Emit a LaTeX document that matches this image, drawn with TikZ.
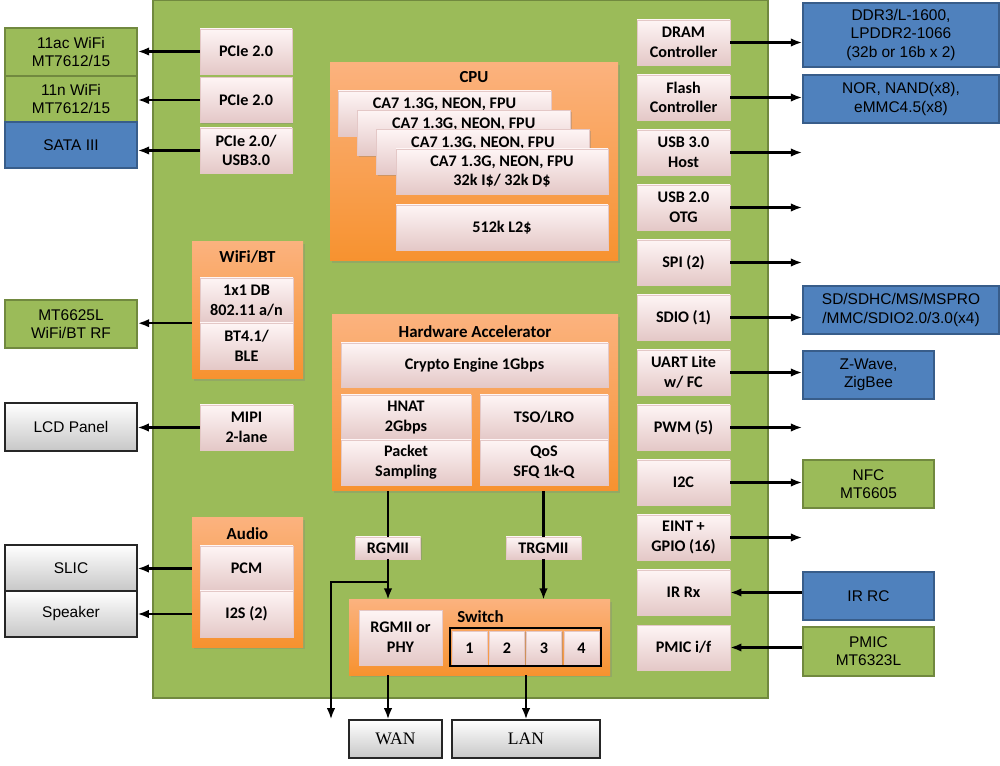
\documentclass[tikz,border=0pt]{standalone}
\usepackage{fontspec}
\setmainfont{Liberation Sans}
\newfontfamily\calfont{Carlito}
\newfontfamily\serfont{Liberation Serif}
\usetikzlibrary{arrows.meta,shadows}

\definecolor{chipgreen}{HTML}{9BBB59}
\definecolor{chipedge}{HTML}{71893F}
\definecolor{blockblue}{HTML}{4F81BD}
\definecolor{blueedge}{HTML}{385D8A}
\definecolor{orangetop}{HTML}{FBB27E}
\definecolor{orangebot}{HTML}{F7922F}
\definecolor{pinktop}{HTML}{FEF5F5}
\definecolor{pinkfill}{HTML}{F8E0DF}
\definecolor{pinkbot}{HTML}{E4C8C7}

\begin{document}
\begin{tikzpicture}[x=0.025cm, y=-0.025cm,
	wh/.style 2 args={minimum width=#1*0.025cm, minimum height=#2*0.025cm},
	ext/.style={inner sep=0pt, align=center, line width=1.2pt, font=\fontsize{11}{13}\selectfont},
	bluebox/.style={ext, fill=blockblue, draw=blueedge},
	greenbox/.style={ext, fill=chipgreen, draw=chipedge},
	graybox/.style={ext, top color=white, bottom color=black!22, draw=black!85, line width=0.8pt},
	grp/.style={inner sep=0pt, top color=orangetop, bottom color=orangebot,
		drop shadow={opacity=0.3, shadow xshift=1.2pt, shadow yshift=-1.2pt}},
	pink/.style={inner sep=0pt, align=center, top color=pinktop, middle color=pinkfill, bottom color=pinkbot,
		draw=pinkbot, line width=0.3pt, drop shadow={opacity=0.35, shadow xshift=1pt, shadow yshift=-1pt},
		font=\calfont\bfseries\fontsize{11.5}{14}\selectfont},
	title/.style={inner sep=0pt, font=\calfont\bfseries\fontsize{12}{14}\selectfont},
	arr/.style={-{Latex[length=8pt,width=6pt]}, line width=1.5pt},
	lnk/.style={line width=1.5pt}
]
	\useasboundingbox (0,0) rectangle (1000,766);
	% the chip
	\node[draw=chipedge, fill=chipgreen, line width=1.5pt, wh={615}{698}] (soc) at (460.5,349) {};

	% outside, left
	\node[greenbox, wh={132}{48}] (ac)   at (71,52)  {11ac WiFi\\MT7612/15};
	\node[greenbox, wh={132}{46}] (n)    at (71,99)  {11n WiFi\\MT7612/15};
	\node[bluebox,  wh={132}{46}] (sata) at (71,145) {SATA III};
	\node[greenbox, wh={132}{48}] (rf)   at (71,324) {MT6625L\\WiFi/BT RF};
	\node[graybox,  wh={132}{48}] (lcd)  at (71,427) {LCD Panel};
	\node[graybox,  wh={132}{46}] (slic) at (71,568) {SLIC};
	\node[graybox,  wh={132}{46}] (spk)  at (71,614) {Speaker};

	% outside, right
	\node[bluebox,  wh={196}{64}] (ddr)  at (901,35)    {DDR3/L-1600,\\LPDDR2-1066\\(32b or 16b x 2)};
	\node[bluebox,  wh={196}{48}] (nor)  at (901,99)    {NOR, NAND(x8),\\eMMC4.5(x8)};
	\node[bluebox,  wh={196}{48}] (sd)   at (901,310)   {SD/SDHC/MS/MSPRO\\/MMC/SDIO2.0/3.0(x4)};
	\node[bluebox,  wh={131}{48}] (zw)   at (868.5,375) {Z-Wave,\\ZigBee};
	\node[greenbox, wh={131}{48}] (nfc)  at (868.5,484) {NFC\\MT6605};
	\node[bluebox,  wh={131}{48}] (irrc) at (868.5,596) {IR RC};
	\node[greenbox, wh={131}{49}] (pmic) at (868.5,651.5) {PMIC\\MT6323L};

	% outside, bottom
	\node[graybox, font=\serfont\fontsize{12.5}{14}\selectfont, wh={93}{38}]  (wan) at (395.5,739) {WAN};
	\node[graybox, font=\serfont\fontsize{12.5}{14}\selectfont, wh={148}{38}] (lan) at (526,739)   {LAN};

	% left column
	\node[pink, wh={92}{45}] (pcieA) at (246,51.5)  {PCIe 2.0};
	\node[pink, wh={92}{45}] (pcieB) at (246,100)   {PCIe 2.0};
	\node[pink, wh={92}{45}] (pcieC) at (246,150.5) {PCIe 2.0/\\USB3.0};
	\node[grp, wh={111}{137}] (wbt) at (247.5,310.5) {};
	\node[title] (wbtlbl) at (247.5,257) {WiFi/BT};
	\node[pink, wh={93}{45}] (wlan) at (246.5,300.5) {1x1 DB\\802.11 a/n};
	\node[pink, wh={93}{46}] (bt)   at (246.5,346)   {BT4.1/\\BLE};
	\node[pink, wh={93}{45}] (mipi) at (246.5,427.5) {MIPI\\2-lane};
	\node[grp, wh={111}{129}] (audio) at (247.5,582.5) {};
	\node[title] (audiolbl) at (247.5,534) {Audio};
	\node[pink, wh={93}{45}] (pcm) at (246.5,568.5) {PCM};
	\node[pink, wh={93}{46}] (i2s) at (246.5,614)   {I2S (2)};

	% CPU
	\node[grp, wh={288}{198}] (cpu) at (474,162) {};
	\node[title] (cpulbl) at (474,77) {CPU};
	\foreach \i in {0,1,2}
		\node[pink, wh={213}{45}] (core\i) at ({444.5+19.2*\i},{113.5+19.2*\i}) {CA7 1.3G, NEON, FPU\\\phantom{32k}};
	\node[pink, wh={212}{45}] (core3) at (502,171.5) {CA7 1.3G, NEON, FPU\\32k I\$/ 32k D\$};
	\node[pink, wh={212}{45}] (ltwo)  at (502,227.5) {512k L2\$};

	% hardware accelerator
	\node[grp, wh={286}{176}] (hwa) at (475,403) {};
	\node[title] (hwalbl) at (475,332) {Hardware Accelerator};
	\node[pink, wh={267}{44}] (crypto) at (474.5,365) {Crypto Engine 1Gbps};
	\node[pink, wh={130}{45}] (hnat)   at (406,417.5) {HNAT\\2Gbps};
	\node[pink, wh={130}{45}] (pkt)    at (406,462.5) {Packet\\Sampling};
	\node[pink, wh={128}{45}] (tso)    at (544,417.5) {TSO/LRO};
	\node[pink, wh={128}{45}] (qos)    at (544,462.5) {QoS\\SFQ 1k-Q};

	\node[pink, wh={65}{22}] (rgmii)  at (388,548)   {RGMII};
	\node[pink, wh={75}{22}] (trgmii) at (543.5,548) {TRGMII};

	% switch
	\node[grp, wh={261}{75}] (sw) at (479.5,637.5) {};
	\node[title, anchor=west] (swlbl) at (457,617) {Switch};
	\node[pink, wh={83}{55}] (phy) at (400.5,637.5) {RGMII or\\PHY};
	\foreach \p/\x in {1/469.5, 2/507, 3/544, 4/581.5}
		\node[pink, wh={35}{34}] (port\p) at (\x,648) {\p};
	\node[draw=black, line width=2pt, wh={151}{38}] (ports) at (525.5,647) {};

	% right column
	\node[pink, wh={93}{45}] (dram)   at (683.5,42.5)  {DRAM\\Controller};
	\node[pink, wh={93}{45}] (flash)  at (683.5,97.5)  {Flash\\Controller};
	\node[pink, wh={93}{45}] (usbh)   at (683.5,152.5) {USB 3.0\\Host};
	\node[pink, wh={93}{45}] (otg)    at (683.5,207.5) {USB 2.0\\OTG};
	\node[pink, wh={93}{45}] (spi)    at (683.5,262.5) {SPI (2)};
	\node[pink, wh={93}{45}] (sdio)   at (683.5,317.5) {SDIO (1)};
	\node[pink, wh={93}{45}] (uart)   at (683.5,372.5) {UART Lite\\w/ FC};
	\node[pink, wh={93}{45}] (pwm)    at (683.5,427.5) {PWM (5)};
	\node[pink, wh={93}{45}] (itc)    at (683.5,482.5) {I2C};
	\node[pink, wh={93}{45}] (eint)   at (683.5,537.5) {EINT +\\GPIO (16)};
	\node[pink, wh={93}{45}] (irrx)   at (683.5,592.5) {IR Rx};
	\node[pink, wh={93}{45}] (pmicif) at (683.5,647.5) {PMIC i/f};

	% links
	\path (pcieA.west) edge[arr] (pcieA.west -| ac.east);
	\path (pcieB.west) edge[arr] (pcieB.west -| n.east);
	\path (pcieC.west) edge[arr] (pcieC.west -| sata.east);
	\path (wlan.south -| wbt.west) edge[arr] (wlan.south -| rf.east);
	\path (mipi.west) edge[arr] (mipi.west -| lcd.east);
	\path (pcm -| audio.west) edge[arr] (pcm -| slic.east);
	\path (i2s -| audio.west) edge[arr] (i2s -| spk.east);

	\path (dram.east)  edge[arr] (dram.east -| ddr.west);
	\path (flash.east) edge[arr] (flash.east -| nor.west);
	\path (usbh.east)  edge[arr] (usbh.east -| ddr.west);
	\path (otg.east)   edge[arr] (otg.east -| ddr.west);
	\path (spi.east)   edge[arr] (spi.east -| ddr.west);
	\path (sdio.east)  edge[arr] (sdio.east -| sd.west);
	\path (uart.east)  edge[arr] (uart.east -| zw.west);
	\path (pwm.east)   edge[arr] (pwm.east -| ddr.west);
	\path (itc.east)   edge[arr] (itc.east -| nfc.west);
	\path (eint.east)  edge[arr] (eint.east -| ddr.west);
	\path (irrx.east -| irrc.west) edge[arr] (irrx.east);
	\path (pmicif.east) edge[arr, {Latex[length=8pt,width=6pt]}-] (pmicif.east -| pmic.west);

	\draw[lnk] (rgmii.north |- hwa.south) -- (rgmii.north);
	\draw[lnk] (trgmii.north |- hwa.south) -- (trgmii.north);
	\draw[arr] (rgmii.south) -- (rgmii.south |- sw.north);
	\draw[arr] (trgmii.south) -- (trgmii.south |- sw.north);
	\coordinate (tap)  at (388,582);
	\coordinate (bend) at (331,582);
	\draw[arr] (tap) -- (bend) -- (bend |- wan.north);
	\draw[arr] (rgmii.south |- sw.south) -- (rgmii.south |- wan.north);
	\draw[arr] (lan.north |- sw.south) -- (lan.north);
\end{tikzpicture}
\end{document}
